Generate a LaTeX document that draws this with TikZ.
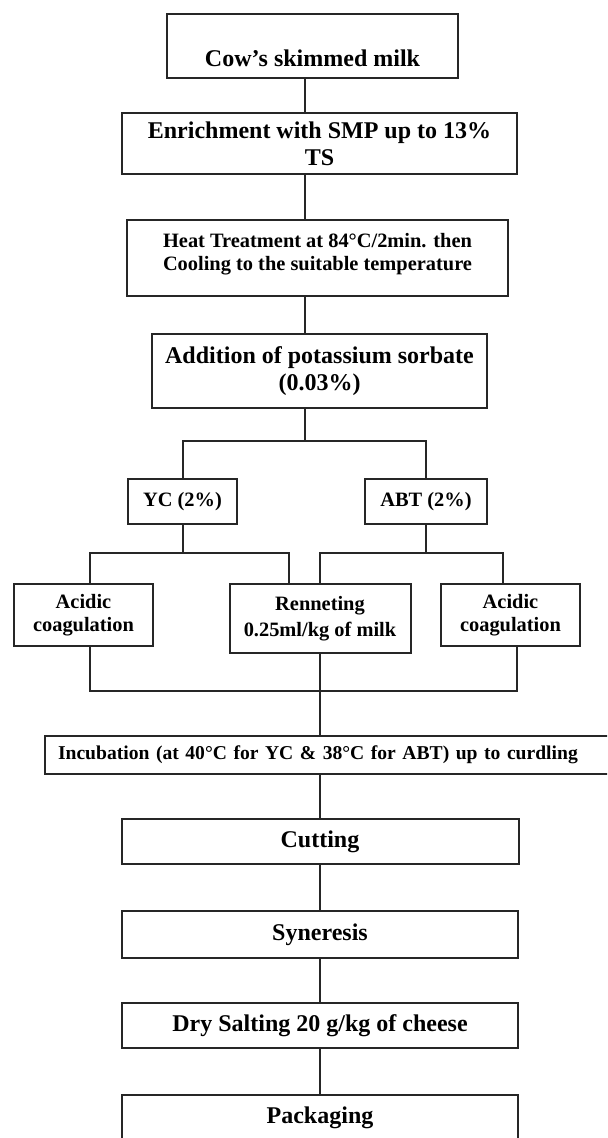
\documentclass[tikz,border=0pt]{standalone}
\usepackage{fontspec}
\setmainfont{Liberation Serif}
\tikzset{
  stepbox/.style={draw=black!85, line width=1pt, align=center, inner sep=2pt, font=\bfseries\fontsize{12}{13.5}\selectfont},
  smalltext/.style={font=\bfseries\fontsize{10.2}{11.4}\selectfont},
  link/.style={draw=black!85, line width=1pt}
}

\begin{document}
\begin{tikzpicture}[x=0.5pt, y=-0.5pt]
\useasboundingbox (0,0) rectangle (607,1138);
\clip (0,0) rectangle (607,1138);
\coordinate (spine) at (305,0);
\node[stepbox, anchor=north, minimum width=145.5pt, text height=24.3pt, text depth=3.7pt] (cow) at (312.5,13) {Cow's skimmed milk};
\node[stepbox, minimum width=197.5pt, minimum height=30.5pt] (enrich) at (319.5,143.5) {Enrichment with SMP up to 13\%\\TS};
\node[stepbox, smalltext, minimum width=190.5pt, minimum height=38pt] (heat) at (317.5,258) {\raisebox{1.75pt}[\height][\depth]{\begin{tabular}{@{}c@{}}Heat Treatment at 84°C/2min. then\\Cooling to the suitable temperature\end{tabular}}};
\node[stepbox, minimum width=167.5pt, minimum height=37pt] (add) at (319.5,371) {Addition of potassium sorbate\\(0.03\%)};
\node[stepbox, smalltext, minimum width=54.5pt, minimum height=22.5pt] (yc) at (182.5,501.5) {YC (2\%)};
\node[stepbox, smalltext, minimum width=61pt, minimum height=22.5pt] (abt) at (426,501.5) {ABT (2\%)};
\node[stepbox, smalltext, minimum width=69.5pt, minimum height=31pt] (acidL) at (83.5,615) {Acidic\\coagulation};
\node[stepbox, font=\bfseries\fontsize{10.2}{13.2}\selectfont, minimum width=90.5pt, minimum height=34.5pt] (renn) at (320,618.5) {Renneting\\0.25ml/kg of milk};
\node[stepbox, smalltext, minimum width=69.5pt, minimum height=31pt] (acidR) at (510.5,615) {Acidic\\coagulation};
\node[stepbox, font=\bfseries\fontsize{9.8}{11}\selectfont, minimum width=283.5pt, minimum height=19pt, text width=270.5pt, align=left, inner xsep=6.5pt] (incub) at (328.5,755) {\mbox{Incubation (at 40°C for YC \& 38°C for ABT) up to curdling}};
\node[stepbox, minimum width=198.5pt, minimum height=22.5pt] (cut) at (320,841.5) {Cutting};
\node[stepbox, minimum width=198pt, minimum height=23.5pt] (syn) at (320,934.5) {Syneresis};
\node[stepbox, minimum width=198pt, minimum height=22.5pt] (salt) at (320,1025.5) {Dry Salting 20 g/kg of cheese};
\node[stepbox, minimum width=198pt, minimum height=23pt] (pack) at (320,1118) {Packaging};
\coordinate (split) at (305,441);
\coordinate (ycsplit) at (182.5,553);
\coordinate (abtsplit) at (426,553);
\coordinate (join) at (320,691);
\draw[link] (cow.south -| spine) -- (enrich.north -| spine);
\draw[link] (enrich.south -| spine) -- (heat.north -| spine);
\draw[link] (heat.south -| spine) -- (add.north -| spine);
\draw[link] (add.south -| spine) -- (split);
\draw[link] (yc.north) |- (split) -| (abt.north);
\draw[link] (yc.south) -- (ycsplit);
\draw[link] ([xshift=3.25pt]acidL.north) |- (ycsplit) -| ([xshift=-15.5pt]renn.north);
\draw[link] (abt.south) -- (abtsplit);
\draw[link] (renn.north) |- (abtsplit) -| ([xshift=-3.75pt]acidR.north);
\draw[link] ([xshift=3.25pt]acidL.south) |- (join) -| ([xshift=3.25pt]acidR.south);
\draw[link] (renn.south) -- (renn.south |- incub.north);
\draw[link] (cut.north) -- (cut.north |- incub.south);
\draw[link] (cut.south) -- (syn.north);
\draw[link] (syn.south) -- (salt.north);
\draw[link] (salt.south) -- (pack.north);
\end{tikzpicture}
\end{document}
